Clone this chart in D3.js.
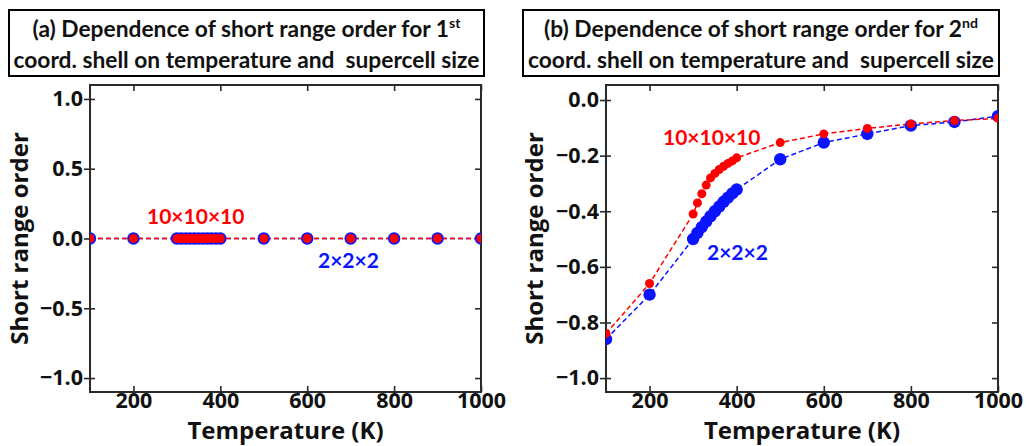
<!DOCTYPE html>
<html><head><meta charset="utf-8">
<script src="https://cdn.jsdelivr.net/npm/d3@7"></script>
<style>
html,body{margin:0;padding:0;background:#fff;}
svg{display:block;}
</style></head>
<body>
<svg id="chart" width="1029" height="446"></svg>
<script>
// ---- data ----
const temps = [100,200,300,310,320,330,340,350,360,370,380,390,400,500,600,700,800,900,1000];
const sro1Large = [0,0,0,0,0,0,0,0,0,0,0,0,0,0,0,0,0,0,0];
const sro1Small = [0,0,0,0,0,0,0,0,0,0,0,0,0,0,0,0,0,0,0];
const sro2Large = [-0.84,-0.66,-0.41,-0.37,-0.337,-0.306,-0.28,-0.264,-0.25,-0.238,-0.228,-0.219,-0.208,-0.153,-0.122,-0.102,-0.086,-0.074,-0.066];
const sro2Small = [-0.86,-0.70,-0.50,-0.478,-0.457,-0.437,-0.418,-0.40,-0.383,-0.366,-0.351,-0.336,-0.322,-0.213,-0.153,-0.122,-0.092,-0.079,-0.058];
const xTicks = [200,400,600,800,1000];
const yTicks1 = [-1.0,-0.5,0.0,0.5,1.0];
const yTicks2 = [-1.0,-0.8,-0.6,-0.4,-0.2,0.0];
const labelLarge = "10×10×10";
const labelSmall = "2×2×2";
const titleA = ["(a) Dependence of short range order for 1", "st", "coord. shell on temperature and  supercell size"];
const titleB = ["(b) Dependence of short range order for 2", "nd", "coord. shell on temperature and  supercell size"];

const svg = d3.select("#chart");
svg.append("rect").attr("width",1029).attr("height",446).attr("fill","#fff");

const RED = "#ff0000", BLUE = "#0a14ff";
const axFont = "'Open Sans', sans-serif";

function panel(cfg){
  const {x0,x1,y0,y1,ydom,yticks,large,small,id,ann} = cfg;
  const x = d3.scaleLinear().domain([100,1000]).range([x0,x1]);
  const y = d3.scaleLinear().domain(ydom).range([y1,y0]);
  const g = svg.append("g");
  g.append("clipPath").attr("id",id).append("rect")
    .attr("x",x0).attr("y",y0).attr("width",x1-x0).attr("height",y1-y0);

  // axes
  const fmt = d3.format(".1f");
  const gl = g.append("g").attr("transform",`translate(${x0},0)`)
    .call(d3.axisLeft(y).tickValues(yticks).tickSize(6).tickPadding(1).tickFormat(fmt));
  gl.selectAll(".tick line").attr("x1",5);
  g.append("g").attr("transform",`translate(0,${y1})`)
    .call(d3.axisBottom(x).tickValues(xTicks).tickSize(-6).tickPadding(1).tickFormat(d3.format("d")));
  g.append("g").attr("transform",`translate(0,${y0})`)
    .call(d3.axisTop(x).tickValues(xTicks).tickSize(-6).tickFormat(""));
  g.append("g").attr("transform",`translate(${x1},0)`)
    .call(d3.axisRight(y).tickValues(yticks).tickSize(-6).tickFormat(""));
  g.selectAll(".domain").remove();
  g.selectAll(".tick line").attr("stroke","#2a2a2a").attr("stroke-width",1.6);
  g.selectAll(".tick text").attr("font-family",axFont).attr("font-weight","bold")
    .attr("font-size",21.5).attr("fill","#111");

  g.append("rect").attr("x",x0).attr("y",y0).attr("width",x1-x0).attr("height",y1-y0)
    .attr("fill","none").attr("stroke","#2a2a2a").attr("stroke-width",2);

  // data
  const dg = g.append("g").attr("clip-path",`url(#${id})`);
  const line = d3.line().x((d,i)=>x(temps[i])).y(d=>y(d));
  dg.append("path").datum(small).attr("d",line).attr("fill","none")
    .attr("stroke",BLUE).attr("stroke-width",1.5).attr("stroke-dasharray","5,3");
  dg.append("path").datum(large).attr("d",line).attr("fill","none")
    .attr("stroke",RED).attr("stroke-width",1.5).attr("stroke-dasharray","5,3");
  dg.selectAll(".ps").data(small).join("circle")
    .attr("cx",(d,i)=>x(temps[i])).attr("cy",d=>y(d)).attr("r",6.2).attr("fill",BLUE);
  dg.selectAll(".pl").data(large).join("circle")
    .attr("cx",(d,i)=>x(temps[i])).attr("cy",d=>y(d)).attr("r",4.5).attr("fill",RED);

  // annotations
  g.append("text").attr("x",ann.lx).attr("y",ann.ly).text(labelLarge)
    .attr("font-family","Lato, sans-serif").attr("font-weight","bold").attr("font-size",21).attr("fill",RED);
  g.append("text").attr("x",ann.sx).attr("y",ann.sy).text(labelSmall)
    .attr("font-family","Lato, sans-serif").attr("font-weight","bold").attr("font-size",21).attr("fill",BLUE);

  // axis titles
  g.append("text").attr("x",(x0+x1)/2).attr("y",439).attr("text-anchor","middle")
    .attr("font-family",axFont).attr("font-weight","bold").attr("font-size",24).attr("fill","#111")
    .text("Temperature (K)");
  g.append("text").attr("transform",`translate(${cfg.ylx},${(y0+y1)/2}) rotate(-90)`)
    .attr("text-anchor","middle")
    .attr("font-family",axFont).attr("font-weight","bold").attr("font-size",24).attr("fill","#111")
    .text("Short range order");
}

panel({x0:90,x1:481,y0:85,y1:392,ydom:[-1.1,1.1],yticks:yTicks1,large:sro1Large,small:sro1Small,id:"clipA",
  ann:{lx:147,ly:224,sx:318,sy:268}, ylx:28});
panel({x0:606,x1:998,y0:85,y1:392,ydom:[-1.05,0.054],yticks:yTicks2,large:sro2Large,small:sro2Small,id:"clipB",
  ann:{lx:663,ly:145,sx:707,sy:260}, ylx:543});

// titles
function titleBox(bx,bw,t){
  svg.append("rect").attr("x",bx).attr("y",10).attr("width",bw).attr("height",66)
    .attr("fill","#fff").attr("stroke","#000").attr("stroke-width",2);
  const cx = bx + bw/2;
  const t1 = svg.append("text").attr("x",cx).attr("y",37).attr("text-anchor","middle")
    .attr("font-family","Lato, sans-serif").attr("font-weight","bold").attr("fill","#111");
  t1.append("tspan").text(t[0]);
  t1.append("tspan").attr("class","sup").attr("dy",-9).text(t[1]);
  const t2 = svg.append("text").attr("x",cx).attr("y",68).attr("text-anchor","middle")
    .attr("font-family","Lato, sans-serif").attr("font-weight","bold").attr("fill","#111")
    .style("white-space","pre").attr("xml:space","preserve").text(t[2]);
  return [t1,t2];
}
const [a1,a2] = titleBox(9,475,titleA);
const [b1,b2] = titleBox(523,476,titleB);
// fit font size so line 2 spans the measured width
[a1,a2,b1,b2].forEach(t=>t.attr("font-size",20));
svg.selectAll(".sup").attr("font-size",13);
const len = a2.node().getComputedTextLength();
const fs = 20*466/len;
[a1,a2,b1,b2].forEach(t=>t.attr("font-size",fs));
svg.selectAll(".sup").attr("font-size",fs*0.62);
</script>
</body></html>
